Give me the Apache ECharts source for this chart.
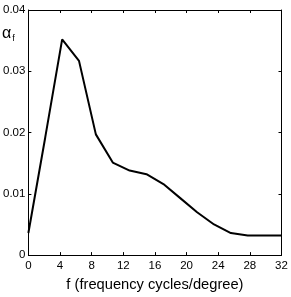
<!DOCTYPE html>
<html><head><meta charset="utf-8">
<script src="https://cdn.jsdelivr.net/npm/echarts@6/dist/echarts.min.js"></script>
<style>html,body{margin:0;padding:0;background:#fff}#c{width:291px;height:297px}</style>
</head><body><div id="c"></div>
<script>
const freq = [0, 2.13, 4.27, 6.4, 8.53, 10.67, 12.8, 14.93, 17.07, 19.2, 21.33, 23.47, 25.6, 27.73, 29.87, 32];
const alpha = [0.0036, 0.0192, 0.0352, 0.0317, 0.0197, 0.0151, 0.0138, 0.0132, 0.0116, 0.0093, 0.0070, 0.0050, 0.0036, 0.0032, 0.0032, 0.0032];
const xTicks = [0, 4, 8, 12, 16, 20, 24, 28, 32];
const yTicks = [0, 0.01, 0.02, 0.03, 0.04];
const xTitle = 'f (frequency cycles/degree)';

const font = 'Liberation Sans, Arial, sans-serif';
const chart = echarts.init(document.getElementById('c'));
const axLine = {show: true, onZero: false, lineStyle: {color: '#000', width: 1}};
const axTick = {show: true, inside: true, length: 3, lineStyle: {color: '#000'}};
chart.setOption({
  animation: false,
  grid: {left: 28, right: 9.5, top: 10, bottom: 34},
  xAxis: [
    {type: 'value', position: 'bottom', min: 0, max: 32, interval: 4, axisLine: axLine, axisTick: axTick, splitLine: {show: false},
     axisLabel: {color: '#000', fontFamily: font, fontSize: 11.5, margin: 5, formatter: v => xTicks.includes(v) ? String(v) : ''},
     name: xTitle, nameLocation: 'middle', nameGap: 21, nameTextStyle: {color: '#000', fontFamily: font, fontSize: 14.7}},
    {type: 'value', position: 'top', min: 0, max: 32, interval: 4, axisLine: axLine, axisTick: axTick,
     axisLabel: {show: false}, splitLine: {show: false}}
  ],
  yAxis: [
    {type: 'value', position: 'left', min: 0, max: 0.04, interval: 0.01, axisLine: axLine, axisTick: axTick, splitLine: {show: false},
     axisLabel: {color: '#000', fontFamily: font, fontSize: 11.5, margin: 3, formatter: v => { const t = yTicks.find(x => Math.abs(x - v) < 1e-9); return t === undefined ? '' : String(t); }}},
    {type: 'value', position: 'right', min: 0, max: 0.04, interval: 0.01, axisLine: axLine, axisTick: axTick,
     axisLabel: {show: false}, splitLine: {show: false}}
  ],
  graphic: [{
    type: 'text', left: 2, top: 26,
    style: {
      text: '{a|α}{s|f}',
      rich: {
        a: {fontFamily: font, fontSize: 16, fill: '#000'},
        s: {fontFamily: font, fontSize: 9, fill: '#000', padding: [9, 0, 0, 1]}
      }
    }
  }],
  series: [{
    type: 'line', xAxisIndex: 0, yAxisIndex: 0, showSymbol: false,
    lineStyle: {color: '#000', width: 2},
    data: freq.map((f, i) => [f, alpha[i]])
  }]
});
</script></body></html>
